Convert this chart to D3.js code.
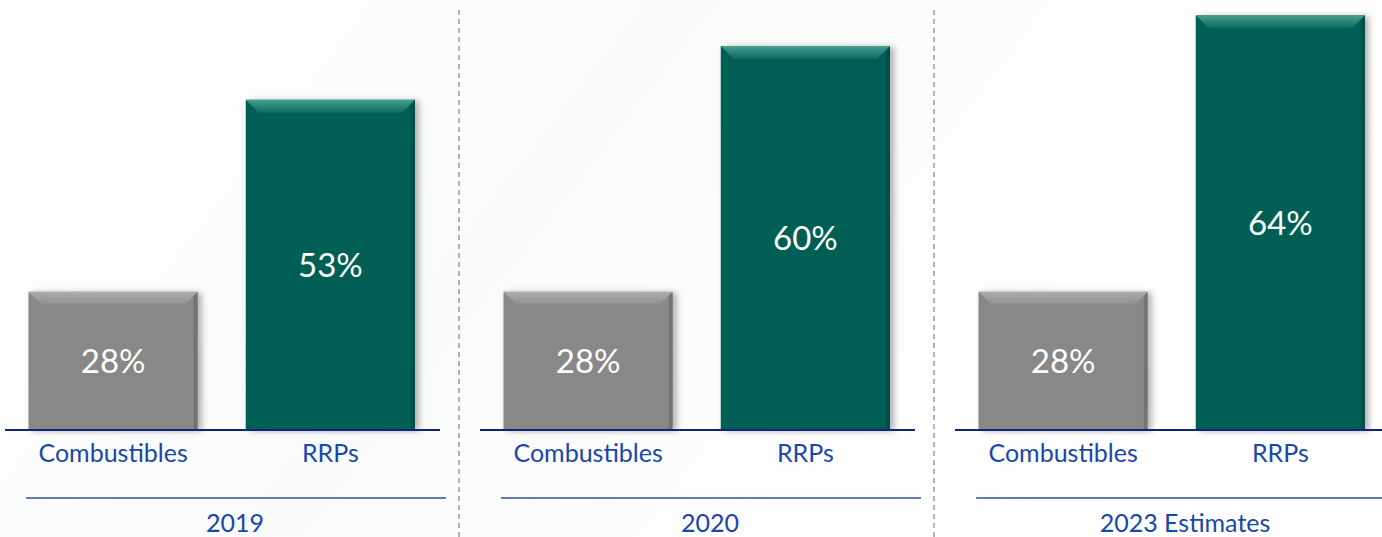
<!DOCTYPE html>
<html>
<head>
<meta charset="utf-8">
<script src="https://cdn.jsdelivr.net/npm/d3@7"></script>
<style>
  body { margin: 0; background: #fff; }
  svg { display: block; font-family: Lato, "Open Sans", sans-serif; }
</style>
</head>
<body>
<div id="chart"></div>
<script>
// size of the canvas
var width = 1382,
    height = 537;

// data
var panels = ["2019", "2020", "2023 Estimates"];
var categories = ["Combustibles", "RRPs"];
var combustibles = [28, 28, 28];
var rrps = [53, 60, 64];

var barColors = { "Combustibles": "#888888", "RRPs": "#065f54" };
var topColors = { "Combustibles": "#b0b0b0", "RRPs": "#4aa291" };

var svg = d3.select("#chart").append("svg")
    .attr("width", width)
    .attr("height", height);

var defs = svg.append("defs");
var shadow = defs.append("filter").attr("id", "shadow")
    .attr("x", "-10%").attr("y", "-10%").attr("width", "130%").attr("height", "120%");
shadow.append("feDropShadow")
    .attr("dx", 4).attr("dy", 1).attr("stdDeviation", 3)
    .attr("flood-color", "#000").attr("flood-opacity", 0.3);

// top bevel highlight fades downwards
categories.forEach(function(c, i) {
  var lg = defs.append("linearGradient").attr("id", "bev" + i)
      .attr("x1", 0).attr("x2", 0).attr("y1", 0).attr("y2", 1);
  lg.append("stop").attr("offset", "0%").attr("stop-color", topColors[c]).attr("stop-opacity", 0.95);
  lg.append("stop").attr("offset", "100%").attr("stop-color", topColors[c]).attr("stop-opacity", 0.15);
});

// faint background wash
var bg = defs.append("linearGradient").attr("id", "bg").attr("x1", 0).attr("x2", 1).attr("y1", 0).attr("y2", 0.3);
bg.append("stop").attr("offset", "0%").attr("stop-color", "#ffffff");
bg.append("stop").attr("offset", "45%").attr("stop-color", "#f9fafa");
bg.append("stop").attr("offset", "100%").attr("stop-color", "#ffffff");
svg.append("rect").attr("width", width).attr("height", height).attr("fill", "url(#bg)");

// panel scale
var panelX = d3.scaleBand().domain(panels).range([5, 1430]).padding(0);

// shared value scale (bars start above zero in the original)
var baseline = 430;
var y = d3.scaleLinear().domain([10, 66]).range([baseline, 0]);

var x = d3.scaleBand().domain(categories).range([23.5, 410]).paddingInner(0.221).paddingOuter(0);

var rows = panels.map(function(p, i) {
  return { panel: p, values: [
    { cat: "Combustibles", v: combustibles[i] },
    { cat: "RRPs", v: rrps[i] }
  ]};
});

// separators
svg.selectAll("line.sep").data(panels.slice(1)).enter().append("line")
    .attr("x1", function(d) { return panelX(d) - 21; })
    .attr("x2", function(d) { return panelX(d) - 21; })
    .attr("y1", 10).attr("y2", height)
    .attr("stroke", "#8c8c8c").attr("stroke-width", 1.3)
    .attr("stroke-dasharray", "5,4");

var g = svg.selectAll("g.panel").data(rows).enter().append("g")
    .attr("class", "panel")
    .attr("transform", function(d) { return "translate(" + panelX(d.panel) + ",0)"; });

var bars = g.selectAll("g.bar").data(function(d) { return d.values; }).enter().append("g")
    .attr("class", "bar");

var bw = x.bandwidth();
var bevel = 13;

bars.append("rect")
    .attr("x", function(d) { return x(d.cat); })
    .attr("y", function(d) { return y(d.v); })
    .attr("width", bw)
    .attr("height", function(d) { return baseline - y(d.v); })
    .attr("fill", function(d) { return barColors[d.cat]; })
    .attr("filter", "url(#shadow)");

// bevelled top edge
bars.append("path")
    .attr("d", function(d) {
      var x0 = x(d.cat), y0 = y(d.v);
      return "M" + x0 + "," + y0 + "L" + (x0 + bw) + "," + y0 +
             "L" + (x0 + bw - bevel) + "," + (y0 + bevel) +
             "L" + (x0 + bevel) + "," + (y0 + bevel) + "Z";
    })
    .attr("fill", function(d) { return "url(#bev" + categories.indexOf(d.cat) + ")"; });

// darker right edge
bars.append("path")
    .attr("d", function(d) {
      var x0 = x(d.cat) + bw, y0 = y(d.v);
      return "M" + x0 + "," + y0 + "L" + x0 + "," + baseline +
             "L" + (x0 - 4) + "," + baseline + "L" + (x0 - 4) + "," + (y0 + 4) + "Z";
    })
    .attr("fill", "#000").attr("opacity", 0.15);

bars.append("text")
    .attr("x", function(d) { return x(d.cat) + bw / 2; })
    .attr("y", function(d) { return (y(d.v) + baseline) / 2; })
    .attr("dy", "0.36em")
    .attr("text-anchor", "middle")
    .attr("fill", "#fff")
    .attr("font-size", 33)
    .text(function(d) { return d.v + "%"; });

// baseline
g.append("line")
    .attr("x1", 0).attr("x2", 435)
    .attr("y1", baseline).attr("y2", baseline)
    .attr("stroke", "#14237a").attr("stroke-width", 2);

// category labels
g.selectAll("text.cat").data(categories).enter().append("text")
    .attr("class", "cat")
    .attr("x", function(d) { return x(d) + bw / 2; })
    .attr("y", 462)
    .attr("text-anchor", "middle")
    .attr("fill", "#1a47aa")
    .attr("font-size", 25)
    .text(function(d) { return d; });

// lower rule + year
g.append("line")
    .attr("x1", 21).attr("x2", 441)
    .attr("y1", 498).attr("y2", 498)
    .attr("stroke", "#2a4fa6").attr("stroke-width", 1.5);

g.append("text")
    .attr("x", 230)
    .attr("y", 532)
    .attr("text-anchor", "middle")
    .attr("fill", "#1a47aa")
    .attr("font-size", 25)
    .text(function(d) { return d.panel; });
</script>
</body>
</html>
